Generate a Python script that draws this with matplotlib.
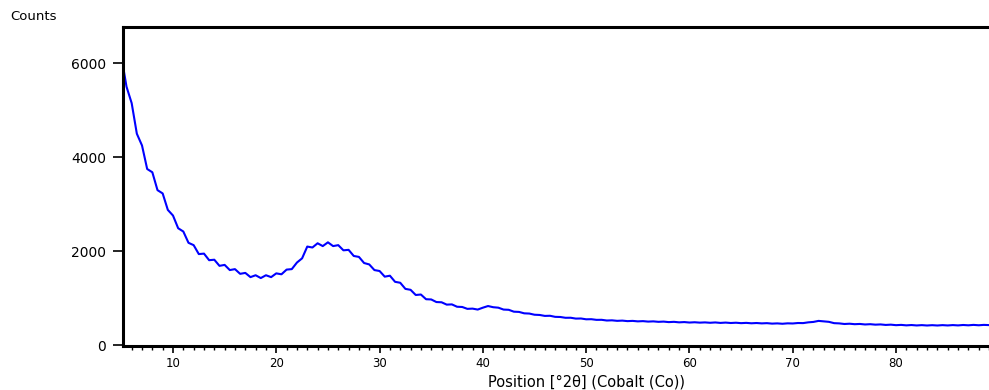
import numpy as np
import matplotlib.pyplot as plt

# 2theta grid (0.5 deg steps) and counts
two_theta = np.arange(5.0, 89.75, 0.5)
counts = [
    6150, 5500, 5150, 4500, 4250, 3750, 3680, 3300, 3230, 2880,
    2760, 2490, 2420, 2180, 2130, 1940, 1950, 1810, 1820, 1690,
    1710, 1600, 1620, 1520, 1540, 1450, 1490, 1430, 1490, 1450,
    1530, 1510, 1610, 1620, 1760, 1850, 2100, 2080, 2170, 2110,
    2190, 2110, 2130, 2020, 2030, 1900, 1880, 1750, 1720, 1600,
    1580, 1460, 1480, 1350, 1330, 1200, 1180, 1070, 1080, 980,
    975, 920, 915, 865, 870, 820, 815, 775, 780, 760,
    800, 835, 810, 800, 760, 755, 715, 710, 680, 675,
    650, 645, 625, 628, 605, 602, 585, 586, 568, 570,
    553, 555, 541, 542, 527, 531, 520, 525, 514, 519,
    509, 514, 504, 509, 499, 504, 493, 499, 488, 494,
    484, 490, 482, 487, 479, 486, 476, 483, 474, 480,
    471, 477, 468, 474, 466, 471, 461, 466, 458, 467,
    464, 474, 472, 488, 497, 519, 508, 499, 471, 466,
    453, 459, 449, 454, 443, 449, 439, 444, 433, 439,
    428, 434, 424, 431, 422, 429, 421, 428, 421, 429,
    422, 430, 423, 432, 425, 434, 426, 434, 428, 431,
]
counts = counts[:len(two_theta)]

y_ticks = [0, 2000, 4000, 6000]
x_ticks = [10, 20, 30, 40, 50, 60, 70, 80]

fig = plt.figure(figsize=(9.89, 3.90), dpi=100)
ax = fig.add_axes([123 / 989, 44 / 390, 866 / 989, 319 / 390])

ax.plot(two_theta, counts, color='#0000FF', lw=1.5)

ax.set_xlim(5.16, 89.0)
ax.set_ylim(-15, 6770)
ax.set_xticks(x_ticks)
ax.set_xticks(np.arange(6, 90, 1), minor=True)
ax.set_yticks(y_ticks)

for side in ['left', 'top', 'bottom']:
    ax.spines[side].set_linewidth(2.2)
ax.spines['right'].set_visible(False)

ax.tick_params(axis='y', length=7, width=1.2, pad=5, labelsize=10)
ax.tick_params(axis='x', which='major', length=5, width=1.2, pad=3, labelsize=8.5)
ax.tick_params(axis='x', which='minor', length=3, width=1.0)

fig.text(10 / 989, 1 - 16 / 390, 'Counts', fontsize=9.5, ha='left', va='center')
fig.text(488 / 989, 1 - 382 / 390, 'Position [°2θ] (Cobalt (Co))', fontsize=10.5,
         ha='left', va='center')

fig.savefig('out.png', dpi=100)
